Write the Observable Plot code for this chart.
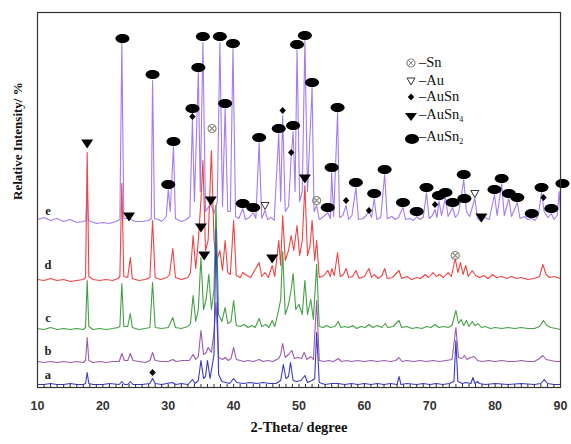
<!DOCTYPE html>
<html><head><meta charset="utf-8">
<script src="https://cdn.jsdelivr.net/npm/d3@7"></script>
<script src="https://cdn.jsdelivr.net/npm/@observablehq/plot@0.6"></script>
<style>
body{margin:0;background:#fff;}
#wrap{position:relative;width:571px;height:444px;}
.leg{position:absolute;left:405px;font-family:"Liberation Serif",serif;font-size:14.5px;color:#111;display:flex;align-items:center;line-height:15px;}
.leg svg{margin-right:0px}
.leg sub{font-size:8px;vertical-align:-3px;}
</style></head><body><div id="wrap"></div>
<script>
// ---- data: [2theta, relative intensity above own baseline] ----
const patternA = [[10,0],[11,0],[12,1],[13,0],[14,0],[15,1],[16,0],[17,0],[17.35,1],[17.6,12],[17.85,1],[18.5,0],[20,0],[21,1],[22.5,0],[22.9,3],[23.3,0],[23.8,0],[24.2,3],[24.6,0],[26,0],[27.2,1],[27.6,6],[28,1],[29,0],[30.6,2],[31.2,0],[32,1],[33,0],[33.7,5],[34.1,1],[34.6,4],[35.0,24],[35.4,6],[35.7,8],[36.0,24],[36.4,6],[37.0,30],[37.3,155],[37.7,10],[38.2,3],[38.8,2],[39.4,1],[40.0,6],[40.5,2],[41.5,1],[42.5,2],[43.5,1],[44.5,2],[45.5,1],[46.5,1],[47.2,4],[47.6,20],[48.0,6],[48.4,8],[48.7,22],[49.1,4],[49.6,3],[50.3,4],[50.9,9],[51.3,2],[52.0,4],[52.4,6],[52.7,52],[53.1,2],[54,0],[55,1],[56,1],[57,0],[58,1],[59,0],[60,1],[61,0],[62,1],[63,0],[64,1],[65,0],[65.3,8],[65.6,0],[66.5,1],[68,0],[69,1],[70,0],[71,1],[72,0],[73,1],[73.7,3],[74.0,44],[74.3,3],[75,1],[75.5,2],[76.3,1],[76.6,7],[76.9,1],[77.3,3],[77.6,1],[78.5,0],[80,1],[82,0],[84,1],[86,0],[87,1],[87.5,5],[88,1],[89,0],[90,0]];
const patternB = [[10,1],[11,0],[12,1],[13,0],[14,1],[15,0],[16,1],[17,0],[17.35,2],[17.6,25],[17.85,2],[18.5,0],[19.5,1],[20.5,0],[21.5,1],[22.5,1],[22.9,9],[23.3,2],[23.8,2],[24.2,9],[24.6,2],[25.5,1],[26.5,0],[27.2,2],[27.6,10],[28.0,2],[29,1],[30,1],[30.7,3],[31.2,1],[32.2,2],[33.2,2],[33.8,8],[34.2,3],[34.6,6],[35.0,32],[35.4,8],[35.8,10],[36.1,15],[36.6,10],[37.0,30],[37.3,60],[37.7,5],[38.3,3],[38.7,5],[39.2,2],[39.6,4],[40.0,15],[40.4,3],[41,2],[41.6,1],[42.2,2],[43,1],[43.9,3],[44.5,1],[45.2,2],[46,1],[46.9,4],[47.2,8],[47.5,19],[47.9,5],[48.4,8],[48.9,12],[49.3,4],[49.8,5],[50.4,4],[50.8,10],[51.2,3],[51.8,6],[52.2,3],[52.7,62],[53.1,2],[53.8,1],[54.5,2],[55.3,1],[56.0,4],[56.5,1],[57.3,2],[58,1],[59,2],[60,1],[61,2],[62,1],[63,2],[64,1],[64.8,2],[65.3,5],[65.7,1],[66.5,2],[67.5,1],[68.5,2],[69.5,1],[70.5,2],[71.5,1],[72.5,2],[73.4,3],[74.0,35],[74.4,5],[74.9,4],[75.3,7],[75.7,3],[76.2,5],[76.8,6],[77.3,2],[78,1],[79,2],[80,1],[81,2],[82,1],[83,1],[84,2],[85,1],[86,1],[86.8,4],[87.3,7],[87.8,3],[88.5,2],[89.3,1],[90,1]];
const patternC = [[10,1],[11,0],[12,2],[13,0],[14,1],[15,0],[16,1],[17,0],[17.35,2],[17.6,49],[17.85,3],[18.5,0],[19.5,1],[20.5,0],[21.5,1],[22.3,2],[22.6,3],[22.9,46],[23.2,3],[23.8,3],[24.2,16],[24.5,2],[25.5,0],[26.5,1],[27.2,2],[27.6,47],[28.0,2],[29,1],[30,2],[30.7,12],[31.1,2],[32,1],[33,3],[33.4,6],[33.8,34],[34.2,8],[34.6,20],[35.0,72],[35.4,20],[35.8,30],[36.2,55],[36.6,20],[37.0,40],[37.3,124],[37.7,15],[38.2,8],[38.7,22],[39.1,6],[39.6,8],[40.0,29],[40.4,4],[41.0,3],[41.6,5],[42.2,2],[42.8,4],[43.3,2],[43.9,11],[44.3,3],[44.9,5],[45.4,2],[45.9,9],[46.3,3],[46.9,20],[47.2,30],[47.5,78],[47.9,15],[48.4,25],[48.8,40],[49.1,56],[49.5,20],[50.0,25],[50.5,15],[50.9,49],[51.3,15],[51.8,30],[52.2,10],[52.7,65],[53.1,3],[53.7,2],[54.2,4],[54.8,2],[55.5,3],[56.0,8],[56.4,2],[57,3],[57.6,2],[58.2,4],[58.8,1],[59.5,3],[60.1,2],[60.7,5],[61.3,2],[62,4],[62.7,2],[63.2,6],[63.6,2],[64.4,3],[65.3,9],[65.7,2],[66.5,3],[67.3,1],[68,2],[68.8,1],[69.5,3],[70.2,2],[70.8,5],[71.4,2],[72.1,3],[72.8,2],[73.4,4],[74.0,19],[74.4,6],[74.8,10],[75.2,4],[75.6,9],[76,3],[76.5,8],[76.9,4],[77.4,6],[77.9,2],[78.5,3],[79.3,1],[80,2],[81,1],[82,2],[83,1],[84,2],[85,1],[86,1],[86.8,3],[87.4,9],[87.9,4],[88.5,2],[89.3,1],[90,0]];
const patternD = [[10,1],[11,0],[12,2],[13,0],[14,1],[15,-1],[16,0],[17,1],[17.35,3],[17.6,128],[17.85,4],[18.5,1],[19.5,0],[20.5,1],[21.5,0],[22.3,2],[22.6,4],[22.9,97],[23.2,4],[23.8,3],[24.2,23],[24.5,2],[25.5,0],[26.5,1],[27.2,3],[27.6,60],[28.0,3],[28.8,1],[29.8,3],[30.2,6],[30.7,32],[31.1,3],[32,1],[33,3],[33.4,8],[33.8,45],[34.2,12],[34.6,40],[35.0,80],[35.3,120],[35.7,30],[36.1,40],[36.6,130],[37.0,40],[37.4,20],[37.9,30],[38.3,10],[38.7,40],[39.1,8],[39.5,6],[40.0,60],[40.4,5],[41,3],[41.4,8],[42,5],[42.6,3],[43.2,10],[43.9,18],[44.3,4],[44.8,8],[45.3,3],[45.9,15],[46.3,4],[46.9,40],[47.2,15],[47.5,65],[47.9,20],[48.4,30],[48.8,45],[49.2,30],[49.7,55],[50.1,25],[50.5,40],[50.9,95],[51.3,25],[51.7,35],[52.0,60],[52.4,20],[52.7,40],[53.1,3],[53.8,5],[54.4,10],[54.8,4],[55.0,12],[55.4,5],[55.9,28],[56.3,4],[56.8,6],[57.2,12],[57.6,3],[58.2,4],[58.7,10],[59.2,2],[60,4],[60.7,12],[61.1,3],[61.5,6],[62.1,2],[62.7,5],[63.1,12],[63.5,2],[64.3,3],[65.3,10],[65.7,2],[66.5,4],[67.2,1],[68,3],[68.6,2],[69.3,6],[69.8,3],[70.5,8],[71.0,4],[71.5,6],[72.1,3],[72.8,8],[73.3,4],[73.9,22],[74.3,8],[74.7,18],[75.1,6],[75.5,15],[75.9,4],[76.5,10],[77.0,5],[77.6,3],[78.3,5],[78.9,2],[79.6,6],[80.2,3],[81.0,4],[81.8,2],[82.5,4],[83.3,2],[84,3],[85,1],[86,2],[86.8,4],[87.3,16],[87.8,6],[88.3,3],[89,4],[90,2]];
const patternE = [[10,2],[11,4],[12,1],[13,3],[14,0],[15,2],[16,-1],[17,0],[17.4,1],[17.6,30],[17.8,1],[19,-2],[20,-1],[21,-2],[22,0],[22.6,2],[22.9,179],[23.2,3],[23.8,3],[24.0,6],[24.3,2],[25,0],[26,0],[27,1],[27.4,3],[27.6,141],[27.9,3],[28.5,2],[29,0],[29.7,5],[30.0,32],[30.3,10],[30.8,75],[31.1,3],[32,0],[32.8,2],[33.3,5],[33.7,102],[34.0,20],[34.6,149],[34.9,30],[35.3,179],[35.7,10],[36.2,15],[36.6,16],[37.0,8],[37.5,20],[37.9,179],[38.3,15],[38.7,113],[39.1,10],[39.5,10],[39.9,173],[40.3,5],[40.8,3],[41.4,13],[41.8,2],[42.4,4],[43.0,9],[43.4,3],[43.9,79],[44.3,3],[44.8,11],[45.2,2],[45.8,4],[46.2,1],[46.9,88],[47.2,20],[47.5,106],[47.9,10],[48.4,15],[48.8,64],[49.1,90],[49.4,30],[49.7,172],[50.1,20],[50.5,30],[50.9,181],[51.3,30],[52.0,134],[52.3,10],[52.7,16],[53.1,2],[53.6,4],[54.4,9],[54.8,3],[55.0,49],[55.3,5],[55.9,109],[56.2,4],[56.7,6],[57.2,16],[57.6,2],[58.1,6],[58.7,34],[59.1,2],[59.8,3],[60.3,6],[60.7,11],[61.1,4],[61.5,23],[61.9,2],[62.5,4],[63.1,47],[63.5,3],[64.2,5],[64.7,2],[65.2,4],[65.9,14],[66.3,2],[67,3],[67.5,1],[68.0,5],[68.5,2],[69.0,4],[69.5,29],[69.9,3],[70.4,6],[70.8,12],[71.1,4],[71.4,21],[71.8,6],[72.4,24],[72.8,5],[73.5,14],[73.9,4],[74.4,8],[75.2,42],[75.6,10],[76.1,5],[76.9,23],[77.3,3],[77.9,0],[78.4,4],[79.1,2],[79.9,27],[80.3,6],[81.0,38],[81.4,6],[82.1,23],[82.5,5],[83.4,19],[83.8,3],[84.5,5],[85.0,2],[85.6,3],[86.1,1],[86.6,6],[87.1,29],[87.5,10],[88.1,4],[88.6,8],[89.0,2],[89.5,6],[89.8,30],[90,10]];

const seriesNames = ["a","b","c","d","e"];
const seriesOffsets = [3, 25, 58, 107, 166];
const seriesColors = ["#3a3ac8","#9a5ab0","#44a044","#ee4444","#a47cf0"];
const patterns = [patternA, patternB, patternC, patternD, patternE];

// phase marker positions [2theta, stacked intensity]
const markSn = [[36.7,259],[52.7,187],[73.9,132]];
const markAu = [[44.8,182],[76.9,194]];
const markAuSn = [[33.7,271],[47.5,277],[48.8,235],[57.2,187],[60.7,177],[70.8,183],[87.4,190],[27.6,15]];
const markAuSn4 = [[17.6,244],[24.0,171],[35.0,160],[35.5,132],[36.5,187],[45.9,129],[50.9,209],[77.9,170]];
const markAuSn2 = [[23.0,349],[27.6,313],[30.0,203],[30.8,246],[33.7,279],[34.6,320],[35.3,351],[37.9,351],[38.7,284],[39.9,344],[41.4,184],[43.0,180],[43.9,250],[46.9,259],[49.1,262],[49.7,343],[50.9,352],[52.0,305],[54.4,180],[55.0,220],[55.9,280],[58.7,205],[61.5,194],[63.1,218],[65.9,185],[68.0,176],[69.5,200],[71.4,192],[72.4,195],[73.5,185],[75.2,213],[75.3,189],[79.9,198],[81.0,209],[82.1,194],[83.4,190],[85.6,174],[87.1,200],[88.6,179],[90.3,204]];

const xTicks = [10,20,30,40,50,60,70,80,90];
const xMinor = d3.range(10, 91, 1);
const labelTheta = 11.6;
const labelLift = [10, 12, 12, 16, 11];

// ---- symbols ----
const ellipseSym = {draw(c){const rx=7,ry=4.6,k=0.5523;c.moveTo(rx,0);c.bezierCurveTo(rx,ry*k,rx*k,ry,0,ry);c.bezierCurveTo(-rx*k,ry,-rx,ry*k,-rx,0);c.bezierCurveTo(-rx,-ry*k,-rx*k,-ry,0,-ry);c.bezierCurveTo(rx*k,-ry,rx,-ry*k,rx,0);c.closePath();}};
const triSym = {draw(c){c.moveTo(-6,-4);c.lineTo(6,-4);c.lineTo(0,5);c.closePath();}};
const openTriSym = {draw(c){c.moveTo(-4,-3);c.lineTo(4,-3);c.lineTo(0,4);c.closePath();}};
const diaSym = {draw(c){c.moveTo(0,-3.5);c.lineTo(3.2,0);c.lineTo(0,3.5);c.lineTo(-3.2,0);c.closePath();}};
const snSym = {draw(c){c.moveTo(4,0);c.arc(0,0,4,0,2*Math.PI);c.moveTo(-2.8,-2.8);c.lineTo(2.8,2.8);c.moveTo(-2.8,2.8);c.lineTo(2.8,-2.8);}};

const lineMarks = [4,3,2,1,0].map(i => Plot.line(patterns[i], {
  x: d => d[0], y: d => d[1] + seriesOffsets[i],
  stroke: seriesColors[i], strokeWidth: 1.1, curve: "linear"
}));

const labels = seriesNames.map((n, i) => ({n, y: seriesOffsets[i] + labelLift[i]}));
const pt = {x: d => d[0], y: d => d[1]};

const chart = Plot.plot({
  width: 571, height: 444,
  marginLeft: 37, marginRight: 11, marginTop: 12, marginBottom: 57,
  x: {domain: [10, 90]},
  y: {domain: [0, 375], axis: null},
  style: {background: "#fff"},
  marks: [
    ...lineMarks,
    Plot.dot(markAuSn2, {...pt, symbol: ellipseSym, fill: "#000", r: 5}),
    Plot.dot(markAuSn4, {...pt, symbol: triSym, fill: "#000", r: 5}),
    Plot.dot(markAuSn, {...pt, symbol: diaSym, fill: "#000", r: 3}),
    Plot.dot(markAu, {...pt, symbol: openTriSym, fill: "none", stroke: "#333", strokeWidth: 1, r: 3}),
    Plot.dot(markSn, {...pt, symbol: snSym, fill: "none", stroke: "#8a8a7a", strokeWidth: 1.2, r: 3}),
    Plot.text(labels, {x: () => labelTheta, y: "y", text: "n", fontFamily: "Liberation Serif", fontWeight: "bold", fontSize: 12.5, fill: "#222"}),
    Plot.ruleX(xMinor, {x: d => d, y1: 0, y2: 3, stroke: "#333", strokeWidth: 1}),
    Plot.frame({stroke: "#333", strokeWidth: 1.2}),
    Plot.axisX(xTicks, {anchor: "bottom", tickSize: 0, tickPadding: 14, fontSize: 12.5, fontWeight: "bold", fontFamily: "Liberation Sans", fill: "#333", label: null}),
    Plot.text(["2-Theta/ degree"], {frameAnchor: "bottom", dy: 44, fontFamily: "Liberation Serif", fontWeight: "bold", fontSize: 14.5, fill: "#111"}),
    Plot.text(["Relative Intensity/ %"], {frameAnchor: "left", dx: -20, rotate: -90, fontFamily: "Liberation Serif", fontWeight: "bold", fontSize: 13, fill: "#111"})
  ]
});
const wrap = document.getElementById("wrap");
wrap.appendChild(chart);

// ---- legend (inside plot area, upper right) ----
const legendItems = [
  {sym: '<circle cx="6" cy="6" r="4" fill="none" stroke="#888" stroke-width="1.2"/><path d="M3.2,3.2L8.8,8.8M3.2,8.8L8.8,3.2" stroke="#888" stroke-width="1"/>', text: "–Sn", top: 55},
  {sym: '<path d="M2,3L10,3L6,10Z" fill="none" stroke="#333" stroke-width="1"/>', text: "–Au", top: 73},
  {sym: '<path d="M6,2.5L9.2,6L6,9.5L2.8,6Z" fill="#000"/>', text: "–AuSn", top: 89},
  {sym: '<path d="M0,2L12,2L6,10Z" fill="#000"/>', text: "–AuSn<sub>4</sub>", top: 107},
  {sym: '<ellipse cx="7" cy="6" rx="7" ry="5" fill="#000"/>', text: "–AuSn<sub>2</sub>", top: 129}
];
legendItems.forEach(it => {
  const div = document.createElement("div");
  div.className = "leg";
  div.style.top = it.top + "px";
  div.innerHTML = `<svg width="14" height="12" viewBox="0 0 14 12">${it.sym}</svg><span>${it.text}</span>`;
  wrap.appendChild(div);
});
</script></body></html>
